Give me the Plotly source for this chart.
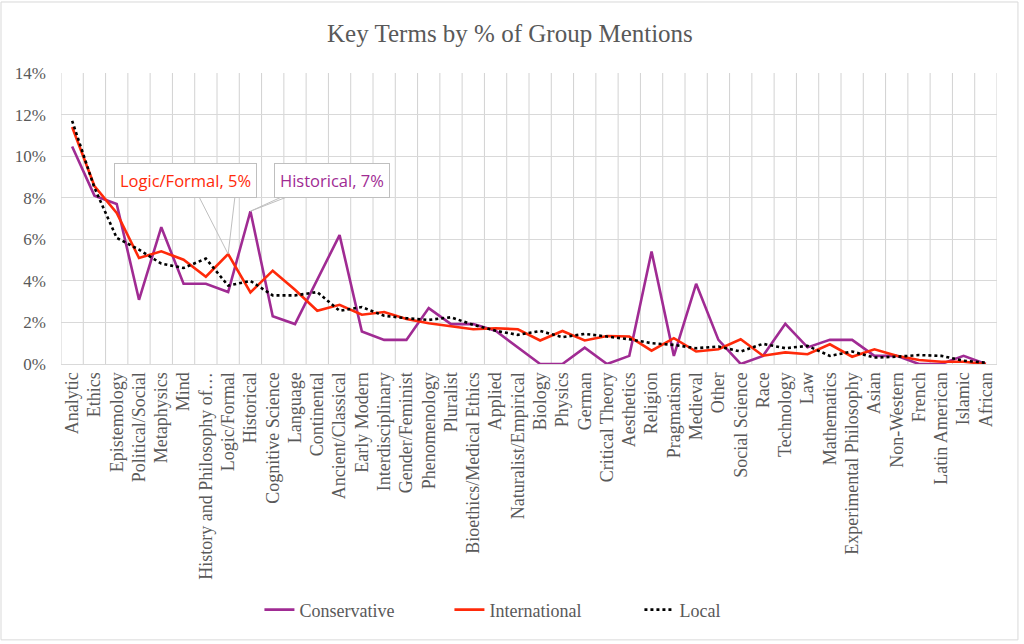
import plotly.graph_objects as go

terms = ['Analytic', 'Ethics', 'Epistemology', 'Political/Social', 'Metaphysics', 'Mind',
         'History and Philosophy of…', 'Logic/Formal', 'Historical', 'Cognitive Science',
         'Language', 'Continental', 'Ancient/Classical', 'Early Modern', 'Interdisciplinary',
         'Gender/Feminist', 'Phenomenology', 'Pluralist', 'Bioethics/Medical Ethics', 'Applied',
         'Naturalist/Empirical', 'Biology', 'Physics', 'German', 'Critical Theory', 'Aesthetics',
         'Religion', 'Pragmatism', 'Medieval', 'Other', 'Social Science', 'Race', 'Technology',
         'Law', 'Mathematics', 'Experimental Philosophy', 'Asian', 'Non-Western', 'French',
         'Latin American', 'Islamic', 'African']

# share of group mentions (%)
conservative = [10.46, 8.1, 7.7, 3.09, 6.58, 3.86, 3.86, 3.46, 7.35, 2.3, 1.92, 4.1, 6.2,
                1.56, 1.16, 1.16, 2.69, 1.92, 1.92, 1.6, 0.8, 0.0, 0.0, 0.79, 0.0, 0.39,
                5.41, 0.39, 3.86, 1.16, 0.0, 0.39, 1.93, 0.8, 1.16, 1.16, 0.39, 0.39, 0.0,
                0.0, 0.39, 0.0]
international = [11.4, 8.56, 7.27, 5.1, 5.42, 5.02, 4.2, 5.29, 3.44, 4.49, 3.57, 2.56, 2.85,
                 2.37, 2.5, 2.16, 1.96, 1.8, 1.67, 1.72, 1.67, 1.13, 1.59, 1.13, 1.35, 1.32,
                 0.64, 1.24, 0.6, 0.71, 1.19, 0.4, 0.56, 0.47, 0.95, 0.35, 0.71, 0.4, 0.19,
                 0.11, 0.11, 0.0]
local = [11.7, 8.48, 6.07, 5.5, 4.83, 4.62, 5.07, 3.77, 4.0, 3.3, 3.3, 3.46, 2.56, 2.74,
         2.32, 2.2, 2.12, 2.25, 1.88, 1.6, 1.4, 1.59, 1.29, 1.45, 1.32, 1.19, 1.0, 0.92,
         0.76, 0.84, 0.6, 0.97, 0.76, 0.87, 0.39, 0.6, 0.31, 0.35, 0.43, 0.39, 0.16, 0.06]

serif = 'Liberation Serif'
grey = '#595959'
purple = '#A02B93'
red = '#FF2A0A'

fig = go.Figure()
fig.add_trace(go.Scatter(x=terms, y=[v / 100 for v in conservative], name='Conservative',
                         mode='lines', line=dict(color=purple, width=2.6)))
fig.add_trace(go.Scatter(x=terms, y=[v / 100 for v in international], name='International',
                         mode='lines', line=dict(color=red, width=2.6)))
fig.add_trace(go.Scatter(x=terms, y=[v / 100 for v in local], name='Local',
                         mode='lines', line=dict(color='black', width=2.6, dash='dot')))

# vertical gridlines between categories (Excel style)
for i in range(len(terms) + 1):
    fig.add_vline(x=i - 0.5, line=dict(color='#D2D2D2', width=1), layer='below')

# callouts (leader lines first, then the labelled boxes)
callouts = [('Logic/Formal', international[7], red, 'Logic/Formal, 5%', [-30, 7], -59, 0.1335),
            ('Historical', conservative[8], purple, 'Historical, 7%', [35, 41], -16, 0.2895)]
for term, val, col, label, axs, ay, bx in callouts:
    for ax in axs:
        fig.add_annotation(x=term, y=val / 100, xref='x', yref='y', text='', showarrow=True,
                           arrowhead=0, arrowwidth=1, arrowcolor='#BFBFBF', ax=ax, ay=ay,
                           standoff=0, startstandoff=0)
    fig.add_annotation(x=bx, y=0.631, xref='paper', yref='paper', xanchor='center',
                       yanchor='middle', text=label, showarrow=False,
                       font=dict(family='Open Sans', size=16.5, color=col),
                       bgcolor='white', bordercolor='#BFBFBF', borderwidth=1, borderpad=5)

# chart outline
fig.add_shape(type='rect', xref='paper', yref='paper', x0=-0.0641, x1=1.0224, y0=-0.948, y1=1.244,
              line=dict(color='#D9D9D9', width=1))

fig.update_layout(
    width=1024, height=644,
    margin=dict(l=61, r=27, t=73, b=280),
    paper_bgcolor='white', plot_bgcolor='white',
    font=dict(family=serif, color=grey),
    title=dict(text='Key Terms by % of Group Mentions', x=0.498, xref='container',
               y=0.949, yanchor='middle', font=dict(family=serif, size=25, color=grey)),
    legend=dict(orientation='h', x=0.212, xanchor='left', y=-0.845, yanchor='middle',
                font=dict(family=serif, size=18, color=grey),
                entrywidth=145, entrywidthmode='pixels'),
    showlegend=True,
)
fig.update_xaxes(type='category', range=[-0.5, len(terms) - 0.5], tickangle=-90,
                 ticks='', showgrid=False, showline=True, linecolor='#D9D9D9',
                 tickfont=dict(family=serif, size=18, color=grey))
fig.update_yaxes(range=[0, 0.14], dtick=0.02, tickformat='.0%', showgrid=True,
                 gridcolor='#D9D9D9', zeroline=False, ticks='', ticklabelstandoff=14,
                 tickfont=dict(family=serif, size=17, color=grey))

fig.write_html('out.html', config={'displayModeBar': False},
               post_script="document.body.style.margin='0';")
